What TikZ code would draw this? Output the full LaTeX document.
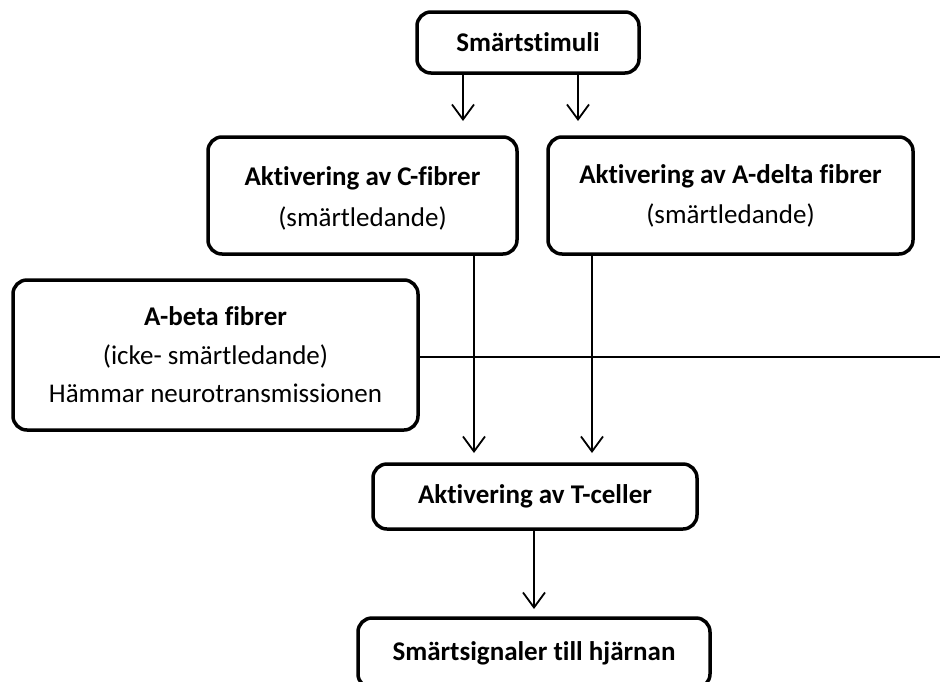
\documentclass[tikz,border=0pt]{standalone}
\usepackage{fontspec}
\setmainfont{Carlito}[Ligatures=NoCommon]
\usetikzlibrary{arrows.meta}
\begin{document}
\begin{tikzpicture}[x=1pt,y=-1pt,
  box/.style={draw, line width=3.5pt, rounded corners=14pt, align=center, inner sep=0pt,
    font=\fontsize{27}{33}\selectfont},
  arr/.style={line width=1.8pt, -{Straight Barb[length=15pt,width=22pt,line width=1.8pt]}},
  ln/.style={line width=1.8pt}]
\useasboundingbox (0,0) rectangle (940,681);
\node[box, minimum width=222pt, minimum height=61pt] (stim) at (528,42.5) {\textbf{Smärtstimuli}};
\node[box, minimum width=309pt, minimum height=117pt] (cf) at (362.5,195.5)
  {\rule{0pt}{25pt}\textbf{Aktivering av C-fibrer}\\[8pt](smärtledande)};
\node[box, minimum width=365pt, minimum height=117pt] (ad) at (730.5,195.5)
  {\textbf{Aktivering av A-delta fibrer}\\[7pt](smärtledande)};
\node[box, minimum width=405pt, minimum height=150pt] (ab) at (215.5,355)
  {\textbf{A-beta fibrer}\\[6pt](icke- smärtledande)\\[5pt]Hämmar neurotransmissionen};
\node[box, minimum width=324pt, minimum height=65pt] (tc) at (535,496.5) {\textbf{Aktivering av T-celler}};
\node[box, minimum width=352pt, minimum height=70pt] (sig) at (534,653) {\textbf{Smärtsignaler till hjärnan}};
\coordinate (s1) at (463,121);
\coordinate (s2) at (578,121);
\coordinate (c1) at (474,453);
\coordinate (d1) at (592,453);
\coordinate (t1) at (534,609);
\coordinate (re) at (940,357);
\draw[arr] (stim.south -| s1) -- (s1);
\draw[arr] (stim.south -| s2) -- (s2);
\draw[arr] (cf.south -| c1) -- (c1);
\draw[arr] (ad.south -| d1) -- (d1);
\draw[arr] (tc.south -| t1) -- (t1);
\draw[ln] (ab.east |- re) -- (re);
\end{tikzpicture}
\end{document}
